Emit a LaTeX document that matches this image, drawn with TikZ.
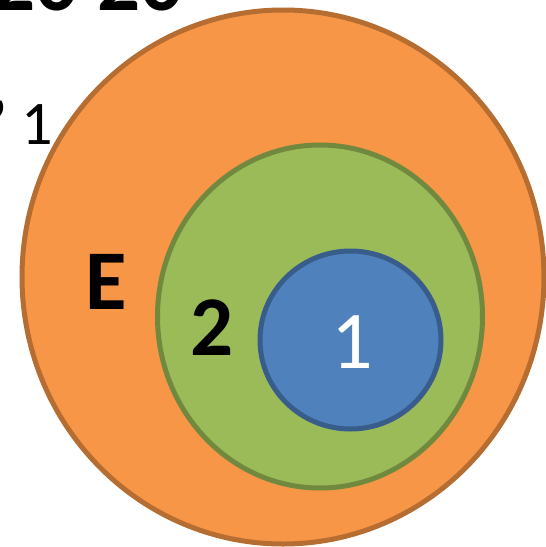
\documentclass[tikz,border=0pt]{standalone}
\usepackage{fontspec}
\setmainfont{Carlito}
\begin{document}
\begin{tikzpicture}[x=1pt,y=-1pt,
  ring/.style={line width=5pt},
  lbl/.style={inner sep=0pt,anchor=base}]
\definecolor{orfill}{HTML}{F79646}
\definecolor{ordraw}{HTML}{B66D31}
\definecolor{grfill}{HTML}{9BBB59}
\definecolor{grdraw}{HTML}{71893F}
\definecolor{blfill}{HTML}{4F81BD}
\definecolor{bldraw}{HTML}{385D8A}
\useasboundingbox (0,0) rectangle (546,547);
\clip (0,0) rectangle (546,547);
\node[lbl,font=\bfseries\fontsize{85}{85}\selectfont,anchor=base west] (title) at (-8,10) {20 20};
\node[lbl,font=\fontsize{62}{62}\selectfont,anchor=base west] (sub) at (-8,144) {’ 1};
\draw[ring,fill=orfill,draw=ordraw] (283,277) ellipse [x radius=261, y radius=267];
\draw[ring,fill=grfill,draw=grdraw] (320,316.5) ellipse [x radius=162.5, y radius=171.5];
\draw[ring,fill=blfill,draw=bldraw] (350.5,340) ellipse [x radius=90.5, y radius=89];
\node[lbl,font=\bfseries\fontsize{85}{85}\selectfont] (E) at (106,309) {E};
\node[lbl,font=\bfseries\fontsize{85}{85}\selectfont] (two) at (212,355) {2};
\node[lbl,font=\fontsize{82}{82}\selectfont,text=white] (one) at (352,368) {1};
\end{tikzpicture}
\end{document}
